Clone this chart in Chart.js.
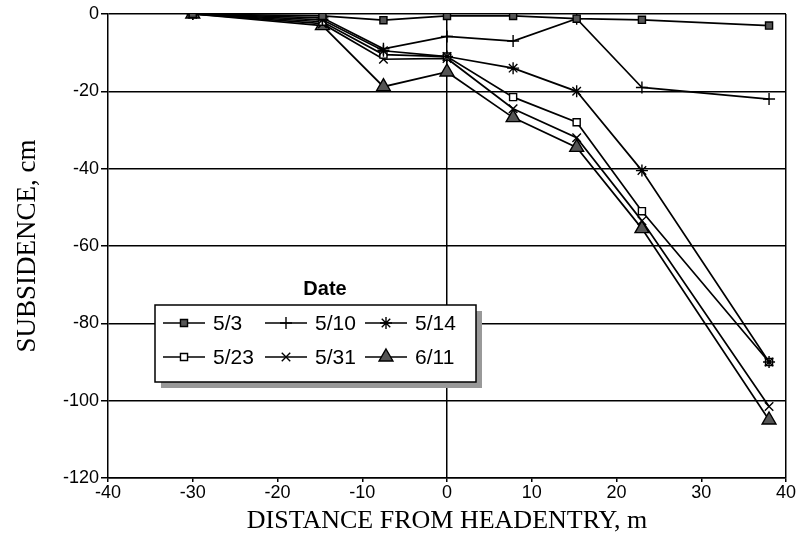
<!DOCTYPE html>
<html>
<head>
<meta charset="utf-8">
<script src="https://cdn.jsdelivr.net/npm/chart.js@4"></script>
<style>
  html, body { margin: 0; padding: 0; background: #fff; }
  #wrap { width: 808px; height: 542px; }
</style>
</head>
<body>
<div id="wrap"><canvas id="chart" width="808" height="542"></canvas></div>
<script>
// distance from headentry (m)
const distances = [-30, -14.7, -7.5, 0, 7.8, 15.3, 23, 38];
// subsidence (cm) per survey date
const dates = ['5/3', '5/10', '5/14', '5/23', '5/31', '6/11'];
const s0503 = [0, -0.5, -1.6, -0.5, -0.5, -1.2, -1.5, -3];
const s0510 = [0, -1, -9, -5.8, -7, -1.2, -19, -22];
const s0514 = [0, -1.5, -9.5, -11, -14, -20, -40.5, -90];
const s0523 = [0, -2, -10.5, -11, -21.5, -28, -51, -90];
const s0531 = [0, -2.5, -11.7, -11.5, -24.5, -32, -53.5, -101.5];
const s0611 = [0, -3, -18.8, -15, -26.8, -34.5, -55.5, -105];
const xTicks = [-40, -30, -20, -10, 0, 10, 20, 30, 40];
const yTicks = [-120, -100, -80, -60, -40, -20, 0];

const styles = [
  { pointStyle: 'rect', radius: 5, fill: '#555' },
  { pointStyle: 'cross', radius: 6, fill: '#000' },
  { pointStyle: 'star', radius: 6, fill: '#000' },
  { pointStyle: 'rect', radius: 5, fill: '#fff' },
  { pointStyle: 'crossRot', radius: 6, fill: '#000' },
  { pointStyle: 'triangle', radius: 8, fill: '#555' }
];
const series = [s0503, s0510, s0514, s0523, s0531, s0611];

const datasets = series.map((vals, i) => ({
  label: dates[i],
  data: vals.map((v, j) => ({ x: distances[j], y: v })),
  showLine: true,
  borderColor: '#000',
  borderWidth: 1.7,
  pointStyle: styles[i].pointStyle,
  pointRadius: styles[i].radius,
  pointBackgroundColor: styles[i].fill,
  pointBorderColor: '#000',
  pointBorderWidth: 1.4
}));

// legend box drawn inside the plot, like the original
const boxLegend = {
  id: 'boxLegend',
  afterDraw(chart) {
    const ctx = chart.ctx;
    const bx = 155, by = 305, bw = 321, bh = 77;
    ctx.save();
    ctx.fillStyle = '#999';
    ctx.fillRect(bx + 6, by + 6, bw, bh);
    ctx.fillStyle = '#fff';
    ctx.fillRect(bx, by, bw, bh);
    ctx.strokeStyle = '#000';
    ctx.lineWidth = 1.5;
    ctx.strokeRect(bx, by, bw, bh);

    ctx.fillStyle = '#000';
    ctx.font = 'bold 20px "Liberation Sans", Arial, sans-serif';
    ctx.textAlign = 'center';
    ctx.textBaseline = 'middle';
    ctx.fillText('Date', 325, 289);

    const cols = [163, 265, 365];
    const rows = [323, 357];
    ctx.font = '21px "Liberation Sans", Arial, sans-serif';
    ctx.textAlign = 'left';
    chart.data.datasets.forEach((ds, i) => {
      const x0 = cols[i % 3], y0 = rows[Math.floor(i / 3)];
      ctx.strokeStyle = '#000';
      ctx.lineWidth = 1.7;
      ctx.beginPath();
      ctx.moveTo(x0, y0);
      ctx.lineTo(x0 + 42, y0);
      ctx.stroke();
      ctx.fillStyle = ds.pointBackgroundColor;
      ctx.lineWidth = 1.4;
      Chart.helpers.drawPoint(ctx, {
        pointStyle: ds.pointStyle,
        radius: ds.pointRadius,
        borderWidth: 1.4,
        rotation: 0
      }, x0 + 21, y0);
      ctx.fillStyle = '#000';
      ctx.fillText(ds.label, x0 + 50, y0 + 1);
    });
    ctx.restore();
  }
};

new Chart(document.getElementById('chart'), {
  type: 'scatter',
  data: { datasets },
  plugins: [boxLegend],
  options: {
    responsive: false,
    animation: false,
    layout: { padding: { top: 14, right: 22, left: 0, bottom: 0 } },
    plugins: { legend: { display: false }, tooltip: { enabled: false } },
    scales: {
      x: {
        type: 'linear',
        min: -40, max: 40,
        afterBuildTicks: s => { s.ticks = xTicks.map(v => ({ value: v })); },
        afterFit: s => { s.height = 64; },
        grid: {
          color: c => (c.tick && (c.tick.value === 0 || c.tick.value === 40)) ? '#000' : 'transparent',
          lineWidth: 1.5,
          tickColor: '#000',
          tickLength: 4
        },
        border: { color: '#000', width: 1.5 },
        ticks: {
          color: '#000',
          padding: 0,
          maxRotation: 0,
          font: { family: '"Liberation Sans", Arial, sans-serif', size: 18 }
        },
        title: {
          display: true,
          text: 'DISTANCE FROM HEADENTRY, m',
          color: '#000',
          padding: { top: 0, bottom: 5 },
          font: { family: '"Liberation Serif", "Times New Roman", serif', size: 26 }
        }
      },
      y: {
        min: -120, max: 0,
        afterBuildTicks: s => { s.ticks = yTicks.map(v => ({ value: v })); },
        afterFit: s => { s.width = 108; },
        grid: {
          color: '#000',
          lineWidth: 1.5,
          tickColor: '#000',
          tickLength: 7
        },
        border: { color: '#000', width: 1.5 },
        ticks: {
          color: '#000',
          padding: 2,
          font: { family: '"Liberation Sans", Arial, sans-serif', size: 18 }
        },
        title: {
          display: true,
          text: 'SUBSIDENCE, cm',
          color: '#000',
          padding: { top: 12, bottom: 0 },
          font: { family: '"Liberation Serif", "Times New Roman", serif', size: 27 }
        }
      }
    }
  }
});
</script>
</body>
</html>
